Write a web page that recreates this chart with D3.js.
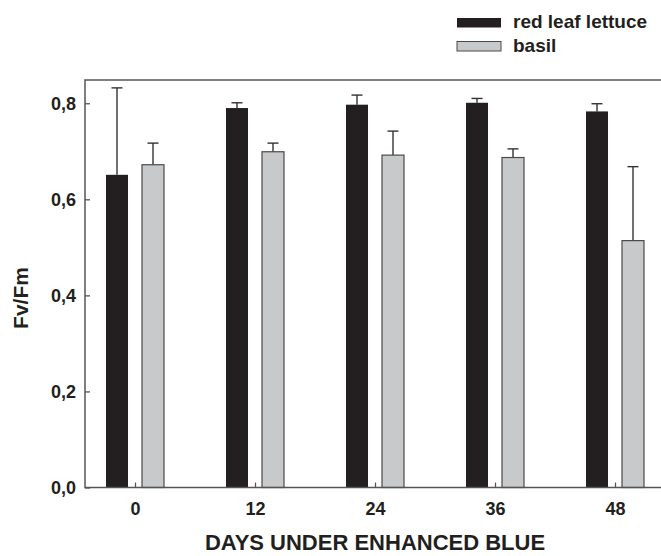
<!DOCTYPE html>
<html>
<head>
<meta charset="utf-8">
<script src="https://cdn.jsdelivr.net/npm/d3@7"></script>
<style>
  body { margin: 0; background: #fff; }
  svg { display: block; font-family: "Liberation Sans", Arial, sans-serif; font-weight: bold; }
</style>
</head>
<body>
<div id="chart"></div>
<script>
// days under enhanced blue
var days = [0, 12, 24, 36, 48];
var series = ['red leaf lettuce', 'basil'];
var lettuce = [0.651, 0.790, 0.797, 0.801, 0.783];
var lettuceErr = [0.181, 0.011, 0.020, 0.009, 0.016];
var basil = [0.672, 0.699, 0.692, 0.687, 0.514];
var basilErr = [0.045, 0.018, 0.050, 0.018, 0.154];
var yTicks = [0, 0.2, 0.4, 0.6, 0.8];

var width = 661, height = 556;
var colors = { 'red leaf lettuce': '#231f20', 'basil': '#c8c9cb' };
var ink = '#231f20';

var svg = d3.select('#chart').append('svg')
  .attr('width', width).attr('height', height);

var x = d3.scaleLinear().domain([-5, 52.6]).range([85, 661]);
var y = d3.scaleLinear().domain([0, 0.8484]).range([487.5, 80]);
// offsets of the two bars around each day
var xs = d3.scaleBand().domain(series).range([-29, 29]).paddingInner(0.389);

var rows = [];
days.forEach(function (d, i) {
  rows.push({ day: d, s: series[0], v: lettuce[i], e: lettuceErr[i] });
  rows.push({ day: d, s: series[1], v: basil[i], e: basilErr[i] });
});

// error bars (drawn first so the bar top hides the stem)
var eb = svg.append('g').attr('stroke', '#333').attr('stroke-width', 1.4);
rows.forEach(function (r) {
  var cx = x(r.day) + xs(r.s) + xs.bandwidth() / 2;
  eb.append('line').attr('x1', cx).attr('x2', cx)
    .attr('y1', y(r.v)).attr('y2', y(r.v + r.e));
  eb.append('line').attr('x1', cx - 5.5).attr('x2', cx + 5.5)
    .attr('y1', y(r.v + r.e)).attr('y2', y(r.v + r.e));
});

svg.append('g').selectAll('rect')
  .data(rows)
  .enter()
  .append('rect')
  .attr('x', function (r) { return x(r.day) + xs(r.s); })
  .attr('y', function (r) { return y(r.v); })
  .attr('width', xs.bandwidth())
  .attr('height', function (r) { return y(0) - y(r.v); })
  .attr('fill', function (r) { return colors[r.s]; })
  .attr('stroke', function (r) { return r.s == 'basil' ? '#4a4a4a' : 'none'; })
  .attr('stroke-width', 1.2);

// frame: left, top, bottom
var frame = svg.append('g').attr('stroke', '#555').attr('stroke-width', 1.5).attr('fill', 'none');
frame.append('path').attr('d', 'M' + width + ',' + y.range()[1] + 'H' + x.range()[0] + 'V' + y(0) + 'H' + width);

// y axis, inward ticks
var yAxis = svg.append('g')
  .attr('transform', 'translate(' + x.range()[0] + ',0)')
  .call(d3.axisRight(y).tickValues(yTicks).tickSize(5).tickFormat(function (d) {
    return d3.format('.1f')(d).replace('.', ',');
  }));
yAxis.select('.domain').remove();
yAxis.selectAll('line').attr('stroke', '#555').attr('stroke-width', 1.3);
yAxis.selectAll('text')
  .attr('x', -9).attr('text-anchor', 'end').attr('dy', '0.35em')
  .attr('fill', ink).style('font-size', '18px').style('font-family', '"Liberation Sans", Arial, sans-serif').style('font-weight', 'bold');

// x axis, inward ticks
var xAxis = svg.append('g')
  .attr('transform', 'translate(0,' + y(0) + ')')
  .call(d3.axisTop(x).tickValues(days).tickSize(5));
xAxis.select('.domain').remove();
xAxis.selectAll('line').attr('stroke', '#555').attr('stroke-width', 1.3);
xAxis.selectAll('text')
  .attr('y', 27.5).attr('dy', 0)
  .attr('fill', ink).style('font-size', '18px').style('font-family', '"Liberation Sans", Arial, sans-serif').style('font-weight', 'bold');

// axis titles
svg.append('text')
  .attr('x', 375).attr('y', 549.5)
  .attr('text-anchor', 'middle').attr('fill', ink)
  .style('font-size', '22px')
  .text('DAYS UNDER ENHANCED BLUE');

svg.append('text')
  .attr('transform', 'translate(28,298) rotate(-90)')
  .attr('text-anchor', 'middle').attr('fill', ink)
  .style('font-size', '21px')
  .text('Fv/Fm');

// legend
var legend = svg.append('g').selectAll('g')
  .data(series)
  .enter()
  .append('g')
  .attr('transform', function (d, i) { return 'translate(457,' + (18 + i * 23.5) + ')'; });
legend.append('rect')
  .attr('width', 44).attr('height', 9.5)
  .attr('fill', function (d) { return colors[d]; })
  .attr('stroke', function (d) { return d == 'basil' ? '#4a4a4a' : 'none'; })
  .attr('stroke-width', 1);
legend.append('text')
  .attr('x', 56).attr('y', 10.3)
  .attr('fill', ink).style('font-size', '19px')
  .text(function (d) { return d; });
</script>
</body>
</html>
